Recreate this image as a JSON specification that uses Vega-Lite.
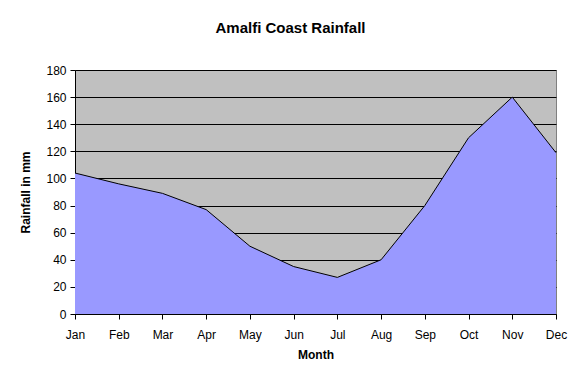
{
  "$schema": "https://vega.github.io/schema/vega-lite/v6.json",
  "width": 481,
  "height": 244,
  "autosize": {"type": "none"},
  "padding": {"left": 75, "top": 70, "right": 26, "bottom": 68},
  "background": "white",
  "title": {
    "text": "Amalfi Coast Rainfall",
    "font": "Liberation Sans",
    "fontSize": 15,
    "fontWeight": "bold",
    "color": "black",
    "anchor": "middle",
    "dx": -25,
    "offset": 28
  },
  "data": {
    "values": [
      {"Month": "Jan", "Rainfall": 104},
      {"Month": "Feb", "Rainfall": 96},
      {"Month": "Mar", "Rainfall": 89},
      {"Month": "Apr", "Rainfall": 77},
      {"Month": "May", "Rainfall": 50},
      {"Month": "Jun", "Rainfall": 35},
      {"Month": "Jul", "Rainfall": 27},
      {"Month": "Aug", "Rainfall": 40},
      {"Month": "Sep", "Rainfall": 80},
      {"Month": "Oct", "Rainfall": 130},
      {"Month": "Nov", "Rainfall": 160},
      {"Month": "Dec", "Rainfall": 119}
    ]
  },
  "mark": {"type": "area", "color": "#9999FF", "opacity": 1, "line": {"color": "black", "strokeWidth": 1}},
  "encoding": {
    "x": {
      "field": "Month",
      "type": "ordinal",
      "sort": null,
      "scale": {"type": "point", "padding": 0},
      "axis": {"title": "Month", "labelAngle": 0, "labelPadding": 10, "titlePadding": 9}
    },
    "y": {
      "field": "Rainfall",
      "type": "quantitative",
      "scale": {"domain": [0, 180], "nice": false},
      "axis": {"title": "Rainfall in mm", "values": [0, 20, 40, 60, 80, 100, 120, 140, 160, 180], "grid": true, "labelPadding": 4, "titlePadding": 13}
    }
  },
  "config": {
    "view": {"fill": "#C0C0C0", "stroke": "#808080", "strokeWidth": 1},
    "axis": {
      "labelFont": "Liberation Sans",
      "labelFontSize": 12,
      "labelColor": "black",
      "titleFont": "Liberation Sans",
      "titleFontSize": 12,
      "titleFontWeight": "bold",
      "titleColor": "black",
      "domainColor": "black",
      "tickColor": "black",
      "tickSize": 5,
      "gridColor": "black",
      "gridOpacity": 1,
      "gridWidth": 1
    }
  }
}
